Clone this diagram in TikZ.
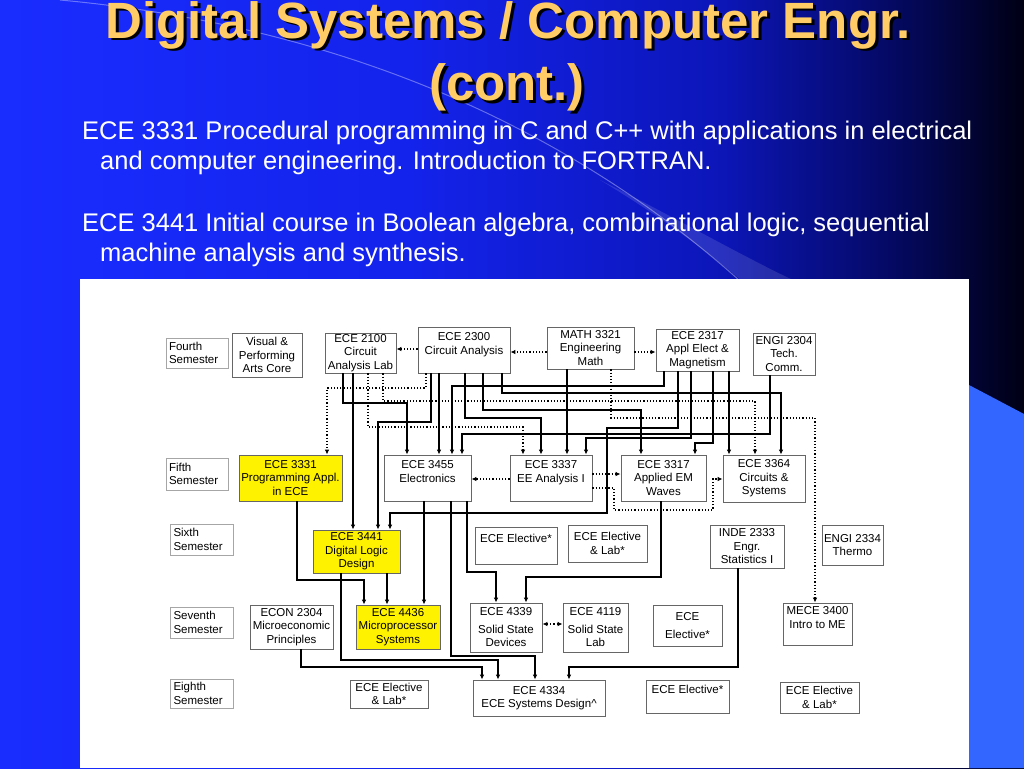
\documentclass[tikz,border=0pt]{standalone}
\usepackage{fontspec}
\setmainfont{Liberation Sans}
\usetikzlibrary{arrows.meta}
\definecolor{bgA}{RGB}{25,45,255}
\definecolor{bgB}{RGB}{20,35,235}
\definecolor{bgC}{RGB}{12,22,185}
\definecolor{bgD}{RGB}{5,10,105}
\definecolor{bgE}{RGB}{0,0,20}
\definecolor{lightblue}{RGB}{51,102,255}
\definecolor{titlec}{RGB}{255,204,102}
\pgfdeclarehorizontalshading{bgshade}{100bp}{color(0bp)=(bgA); color(25bp)=(bgA); color(45bp)=(bgB); color(60bp)=(bgC); color(68bp)=(bgD); color(75bp)=(bgE); color(100bp)=(bgE)}
\begin{document}
\begin{tikzpicture}[x=1pt,y=-1pt,
  >={Latex[length=5pt,width=4.5pt]},
  box/.style={draw=black!60, line width=0.8pt, fill=white, inner xsep=1pt, inner ysep=0pt, align=center, font=\fontsize{11.5}{13.5}\selectfont},
  ybox/.style={box, fill=yellow},
  sem/.style={draw=black!35, line width=0.8pt, fill=white, inner xsep=2pt, inner ysep=0pt, align=left, text width=56pt, font=\fontsize{11.5}{13.5}\selectfont},
  conn/.style={line width=1.2pt, ->},
  dconn/.style={line width=1.2pt, ->, dotted},
  titlefont/.style={font=\fontsize{51}{60}\selectfont\bfseries, anchor=base, inner sep=0pt},
  bodyfont/.style={font=\fontsize{25.5}{30}\selectfont, text=white, anchor=base west, inner sep=0pt}
]
\useasboundingbox (0,0) rectangle (1024,768);
% background
\shade[shading=bgshade] (0,0) rectangle (1024,768);
\draw[white, opacity=0.35, line width=1pt] (60,0) .. controls (330,25) and (560,120) .. (740,281);
\fill[white, opacity=0.12] (600,180) .. controls (680,220) and (740,255) .. (795,281) -- (742,281) .. controls (700,245) and (650,210) .. cycle;
\fill[lightblue] (969,385) -- (1024,414) -- (1024,768) -- (969,768) -- cycle;
% title
\node[titlefont, text=black] (t1s) at (511,41) {Digital Systems / Computer Engr.};
\node[titlefont, text=titlec] (t1) at (508,38) {Digital Systems / Computer Engr.};
\node[titlefont, text=black] (t2s) at (510,103) {(cont.)};
\node[titlefont, text=titlec] (t2) at (507,100) {(cont.)};
% body text
\node[bodyfont] (b1) at (82,139) {ECE 3331 Procedural programming in C and C++ with applications in electrical};
\node[bodyfont] (b2) at (100,169) {and computer engineering. Introduction to FORTRAN.};
\node[bodyfont] (b3) at (82,231) {ECE 3441 Initial course in Boolean algebra, combinational logic, sequential};
\node[bodyfont] (b4) at (100,261) {machine analysis and synthesis.};
% white panel
\fill[white] (80,279) rectangle (969,768);
% semester labels
\node[sem, minimum width=62pt, minimum height=30pt] (s4) at (197,353) {Fourth\\Semester};
\node[sem, minimum width=62pt, minimum height=32pt] (s5) at (197,474) {Fifth\\Semester};
\node[sem, minimum width=63pt, minimum height=31pt] (s6) at (201.5,539.5) {Sixth\\Semester};
\node[sem, minimum width=63pt, minimum height=31pt] (s7) at (201.5,622.5) {Seventh\\Semester};
\node[sem, minimum width=63pt, minimum height=29pt] (s8) at (201.5,693.5) {Eighth\\Semester};
% fourth semester
\node[box, minimum width=70pt, minimum height=44pt] (vpa) at (267,355) {Visual \&\\Performing\\Arts Core};
\node[box, minimum width=71pt, minimum height=40pt] (e2100) at (360.5,353) {ECE 2100\\Circuit\\Analysis Lab};
\node[box, minimum width=92pt, minimum height=46pt] (e2300) at (464,350) {ECE 2300\\Circuit Analysis\\~};
\node[box, minimum width=87pt, minimum height=42pt] (m3321) at (590.5,348) {MATH 3321\\Engineering\\Math};
\node[box, minimum width=83pt, minimum height=42pt] (e2317) at (697.5,350) {ECE 2317\\Appl Elect \&\\Magnetism};
\node[box, minimum width=62pt, minimum height=42pt] (g2304) at (784,354) {ENGI 2304\\Tech.\\Comm.};
% fifth semester
\node[ybox, minimum width=103pt, minimum height=46pt] (e3331) at (290.5,478) {ECE 3331\\Programming Appl.\\in ECE};
\node[box, minimum width=87pt, minimum height=46pt] (e3455) at (427.5,478) {ECE 3455\\Electronics\\~};
\node[box, minimum width=82pt, minimum height=46pt] (e3337) at (551,478) {ECE 3337\\EE Analysis I\\~};
\node[box, minimum width=85pt, minimum height=46pt] (e3317) at (663.5,478) {ECE 3317\\Applied EM\\Waves};
\node[box, minimum width=82pt, minimum height=47pt] (e3364) at (764,478.5) {ECE 3364\\Circuits \&\\Systems};
% sixth semester
\node[ybox, minimum width=87pt, minimum height=43pt] (e3441) at (356.5,551.5) {ECE 3441\\Digital Logic\\Design};
\node[box, minimum width=82pt, minimum height=37pt] (el6a) at (516,545.5) {ECE Elective*\\~};
\node[box, minimum width=79pt, minimum height=37pt] (el6b) at (607.5,543.5) {ECE Elective\\\& Lab*};
\node[box, minimum width=74pt, minimum height=43pt] (i2333) at (747,546.5) {INDE 2333\\Engr.\\Statistics I};
\node[box, minimum width=61pt, minimum height=40pt] (g2334) at (852.5,545) {ENGI 2334\\Thermo};
% seventh semester
\node[box, minimum width=83pt, minimum height=44pt] (econ) at (291.5,627) {ECON 2304\\Microeconomic\\Principles};
\node[ybox, minimum width=84pt, minimum height=44pt] (e4436) at (398,627) {ECE 4436\\Microprocessor\\Systems};
\node[box, minimum width=72pt, minimum height=49pt] (e4339) at (506,627.5) {ECE 4339\\[4pt]Solid State\\Devices};
\node[box, minimum width=65pt, minimum height=49pt] (e4119) at (595.5,627.5) {ECE 4119\\[4pt]Solid State\\Lab};
\node[box, minimum width=69pt, minimum height=41pt] (el7) at (687.5,625.5) {ECE\\[5pt]Elective*};
\node[box, minimum width=69pt, minimum height=42pt] (me3400) at (817.5,624) {MECE 3400\\Intro to ME\\~};
% eighth semester
\node[box, minimum width=78pt, minimum height=28pt] (el8a) at (389,694) {ECE Elective\\\& Lab*};
\node[box, minimum width=132pt, minimum height=36pt] (e4334) at (539,698) {ECE 4334\\ECE Systems Design\textasciicircum};
\node[box, minimum width=83pt, minimum height=33pt] (el8b) at (687.5,696.5) {ECE Elective*\\~};
\node[box, minimum width=79pt, minimum height=31pt] (el8c) at (819.5,697.5) {ECE Elective\\\& Lab*};
% dotted connectors
\draw[dconn] (e2300.west |- 0,349) -- (e2100.east |- 0,349);
\draw[dconn] (m3321.west |- 0,352) -- (e2300.east |- 0,352);
\draw[dconn] (m3321.east |- 0,352) -- (e2317.west |- 0,352);
\draw[dconn] (e2300.south -| 426,0) -- (426,388) -- (327,388) -- (e3331.north -| 327,0);
\draw[dconn] (e2100.south -| 368,0) -- (368,427) -- (523,427) -- (e3337.north -| 523,0);
\draw[dconn] (e2100.south -| 383,0) -- (383,401) -- (755,401) -- (e3364.north -| 755,0);
\draw[dconn] (m3321.south -| 611,0) -- (611,418) -- (815,418) -- (me3400.north -| 815,0);
\draw[dconn] (e3337.west |- 0,479) -- (e3455.east |- 0,479);
\draw[dconn] (e3337.east |- 0,474) -- (e3317.west |- 0,474);
\draw[dconn] (e3337.east |- 0,488) -- (614,488) -- (614,510) -- (713,510) -- (713,479) -- (e3364.west |- 0,479);
\draw[dconn, <->] (e4339.east |- 0,624) -- (e4119.west |- 0,624);
% solid connectors
\draw[conn] (e2100.south -| 343,0) -- (343,403) -- (407,403) -- (e3455.north -| 407,0);
\draw[conn] (e2100.south -| 353,0) -- (e3441.north -| 353,0);
\draw[conn] (e2300.south -| 431,0) -- (431,422) -- (378,422) -- (e3441.north -| 378,0);
\draw[conn] (e2300.south -| 439,0) -- (e3455.north -| 439,0);
\draw[conn] (e2300.south -| 465,0) -- (465,418) -- (541,418) -- (e3337.north -| 541,0);
\draw[conn] (e2300.south -| 483,0) -- (483,410) -- (641,410) -- (e3317.north -| 641,0);
\draw[conn] (e2300.south -| 502,0) -- (502,393) -- (781,393) -- (e3364.north -| 781,0);
\draw[conn] (e2317.south -| 664,0) -- (664,386) -- (452,386) -- (e3455.north -| 452,0);
\draw[conn] (e2317.south -| 678,0) -- (678,428) -- (607,428) -- (607,513) -- (390,513) -- (e3441.north -| 390,0);
\draw[conn] (e2317.south -| 691,0) -- (691,438) -- (586,438) -- (e3337.north -| 586,0);
\draw[conn] (e2317.south -| 713,0) -- (713,443) -- (695,443) -- (e3317.north -| 695,0);
\draw[conn] (e2317.south -| 729,0) -- (e3364.north -| 729,0);
\draw[conn] (g2304.south -| 770,0) -- (770,434) -- (462,434) -- (e3455.north -| 462,0);
\draw[conn] (m3321.south -| 567,0) -- (e3337.north -| 567,0);
\draw[conn] (e3331.south -| 297,0) -- (297,580) -- (364,580) -- (e4436.north -| 364,0);
\draw[conn] (e3441.south -| 387,0) -- (e4436.north -| 387,0);
\draw[conn] (e3455.south -| 424,0) -- (e4436.north -| 424,0);
\draw[conn] (e3455.south -| 467,0) -- (467,572) -- (496,572) -- (e4339.north -| 496,0);
\draw[conn] (e3455.south -| 451,0) -- (451,656) -- (535,656) -- (e4334.north -| 535,0);
\draw[conn] (e3317.south -| 661,0) -- (661,577) -- (526,577) -- (e4339.north -| 526,0);
\draw[conn] (e3441.south -| 341,0) -- (341,660) -- (498,660) -- (e4334.north -| 498,0);
\draw[conn] (econ.south -| 301,0) -- (301,667) -- (482,667) -- (e4334.north -| 482,0);
\draw[conn] (i2333.south -| 738,0) -- (738,667) -- (569,667) -- (e4334.north -| 569,0);
\end{tikzpicture}
\end{document}
